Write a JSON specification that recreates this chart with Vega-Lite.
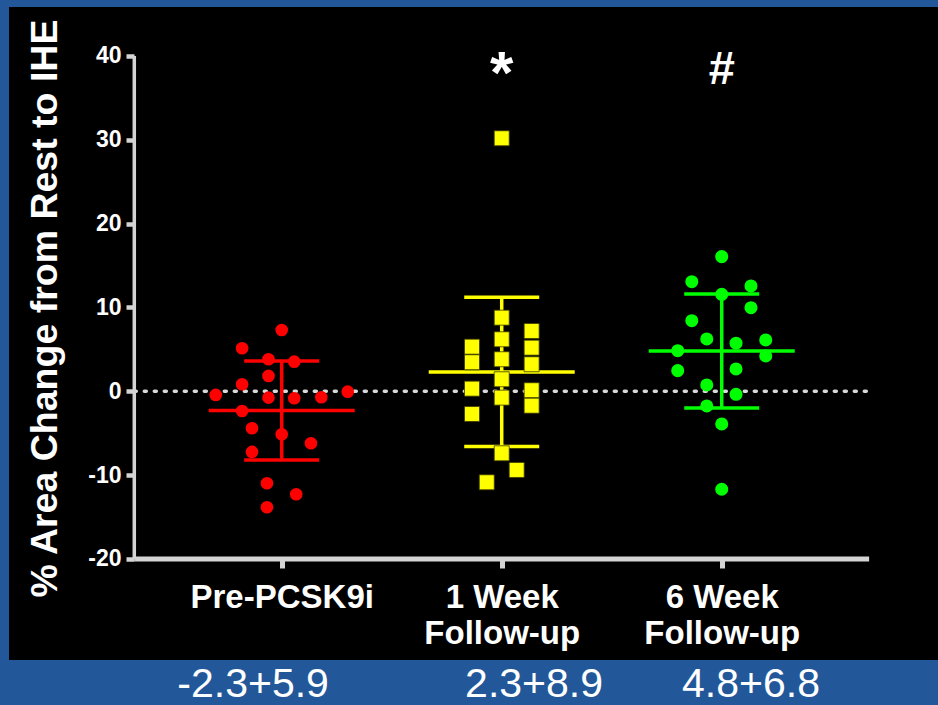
{
  "$schema": "https://vega.github.io/schema/vega-lite/v6.json",
  "width": 929,
  "height": 653,
  "autosize": {"type": "none"},
  "padding": {"left": 9, "top": 7, "right": 0, "bottom": 45},
  "background": "#22589a",
  "config": {
    "view": {"fill": "#000000", "stroke": null},
    "font": "Liberation Sans"
  },
  "datasets": {
    "points": [
      {"group": "Pre-PCSK9i", "x": 1.0, "y": 7.31},
      {"group": "Pre-PCSK9i", "x": 0.82, "y": 5.13},
      {"group": "Pre-PCSK9i", "x": 0.94, "y": 3.82},
      {"group": "Pre-PCSK9i", "x": 1.057, "y": 3.53},
      {"group": "Pre-PCSK9i", "x": 0.94, "y": 1.83},
      {"group": "Pre-PCSK9i", "x": 0.82, "y": 0.84},
      {"group": "Pre-PCSK9i", "x": 0.70, "y": -0.44},
      {"group": "Pre-PCSK9i", "x": 0.94, "y": -0.76},
      {"group": "Pre-PCSK9i", "x": 1.057, "y": -0.84},
      {"group": "Pre-PCSK9i", "x": 1.18, "y": -0.72},
      {"group": "Pre-PCSK9i", "x": 1.30, "y": -0.05},
      {"group": "Pre-PCSK9i", "x": 0.82, "y": -2.35},
      {"group": "Pre-PCSK9i", "x": 0.865, "y": -4.41},
      {"group": "Pre-PCSK9i", "x": 1.0, "y": -5.13},
      {"group": "Pre-PCSK9i", "x": 1.133, "y": -6.2},
      {"group": "Pre-PCSK9i", "x": 0.865, "y": -7.24},
      {"group": "Pre-PCSK9i", "x": 0.933, "y": -10.97},
      {"group": "Pre-PCSK9i", "x": 1.066, "y": -12.29},
      {"group": "Pre-PCSK9i", "x": 0.933, "y": -13.84},
      {"group": "1 Week", "x": 2.0, "y": 30.18},
      {"group": "1 Week", "x": 2.0, "y": 8.78},
      {"group": "1 Week", "x": 2.0, "y": 6.2},
      {"group": "1 Week", "x": 2.0, "y": 3.82},
      {"group": "1 Week", "x": 2.0, "y": 1.43},
      {"group": "1 Week", "x": 2.0, "y": -0.76},
      {"group": "1 Week", "x": 2.0, "y": -7.4},
      {"group": "1 Week", "x": 2.068, "y": -9.39},
      {"group": "1 Week", "x": 1.932, "y": -10.86},
      {"group": "1 Week", "x": 1.865, "y": 5.32},
      {"group": "1 Week", "x": 1.865, "y": 3.46},
      {"group": "1 Week", "x": 1.865, "y": 0.31},
      {"group": "1 Week", "x": 1.865, "y": -2.71},
      {"group": "1 Week", "x": 2.136, "y": 7.19},
      {"group": "1 Week", "x": 2.136, "y": 5.2},
      {"group": "1 Week", "x": 2.136, "y": 3.22},
      {"group": "1 Week", "x": 2.136, "y": 0.12},
      {"group": "1 Week", "x": 2.136, "y": -1.72},
      {"group": "6 Week", "x": 3.0, "y": 16.06},
      {"group": "6 Week", "x": 3.0, "y": 11.57},
      {"group": "6 Week", "x": 3.0, "y": -3.9},
      {"group": "6 Week", "x": 3.0, "y": -11.69},
      {"group": "6 Week", "x": 2.864, "y": 13.07},
      {"group": "6 Week", "x": 2.864, "y": 8.42},
      {"group": "6 Week", "x": 3.133, "y": 12.56},
      {"group": "6 Week", "x": 3.133, "y": 9.97},
      {"group": "6 Week", "x": 2.932, "y": 6.24},
      {"group": "6 Week", "x": 2.932, "y": 0.75},
      {"group": "6 Week", "x": 2.932, "y": -1.75},
      {"group": "6 Week", "x": 3.065, "y": 5.73},
      {"group": "6 Week", "x": 3.065, "y": 2.66},
      {"group": "6 Week", "x": 3.065, "y": -0.36},
      {"group": "6 Week", "x": 3.2, "y": 6.12},
      {"group": "6 Week", "x": 3.2, "y": 4.21},
      {"group": "6 Week", "x": 2.8, "y": 4.84},
      {"group": "6 Week", "x": 2.8, "y": 2.46}
    ],
    "summary": [
      {"group": "Pre-PCSK9i", "x": 1, "mean": -2.3, "lo": -8.2, "hi": 3.6},
      {"group": "1 Week", "x": 2, "mean": 2.3, "lo": -6.6, "hi": 11.2},
      {"group": "6 Week", "x": 3, "mean": 4.8, "lo": -2.0, "hi": 11.6}
    ],
    "frame": [
      {"x": 0.33, "x2": 3.67, "y": -20, "y2": -20, "kind": "xaxis"},
      {"x": 0.33, "x2": 0.33, "y": -20, "y2": 40, "kind": "yaxis"}
    ],
    "zero": [{"x": 0.33, "x2": 3.66, "y": 0}],
    "marks": [
      {"x": 2, "y": 35.6, "text": "*"},
      {"x": 3, "y": 36.6, "text": "#"}
    ],
    "stats": [
      {"x": 0.87, "y": -35.0, "text": "-2.3+5.9"},
      {"x": 2.147, "y": -35.0, "text": "2.3+8.9"},
      {"x": 3.133, "y": -35.0, "text": "4.8+6.8"}
    ]
  },
  "encoding": {
    "x": {
      "type": "quantitative",
      "scale": {"domain": [-0.2395, 3.983], "nice": false, "zero": false},
      "axis": {
        "orient": "bottom",
        "offset": -101,
        "values": [1, 2, 3],
        "labelExpr": "datum.value == 1 ? 'Pre-PCSK9i' : datum.value == 2 ? ['1 Week', 'Follow-up'] : ['6 Week', 'Follow-up']",
        "labelFont": "Liberation Sans",
        "labelFontWeight": "bold",
        "labelFontSize": 33,
        "labelLineHeight": 36,
        "labelColor": "#ffffff",
        "labelPadding": 13,
        "labelLimit": 0,
        "labelOverlap": false,
        "labelFlush": false,
        "tickColor": "#d4d4d4",
        "tickSize": 9,
        "tickWidth": 5,
        "domain": false,
        "grid": false,
        "title": null
      }
    },
    "y": {
      "type": "quantitative",
      "scale": {"domain": [-32.06, 45.84], "nice": false, "zero": false},
      "axis": {
        "orient": "left",
        "offset": -125,
        "values": [-20, -10, 0, 10, 20, 30, 40],
        "labelExpr": "'' + datum.value",
        "labelFont": "Liberation Sans",
        "labelFontWeight": "bold",
        "labelFontSize": 23,
        "labelColor": "#ffffff",
        "labelPadding": 5,
        "labelOverlap": false,
        "labelFlush": false,
        "tickColor": "#d4d4d4",
        "tickSize": 8,
        "tickWidth": 4.5,
        "domain": false,
        "grid": false,
        "title": "% Area Change from Rest to IHE",
        "titleFont": "Liberation Sans",
        "titleFontWeight": "bold",
        "titleFontSize": 37.5,
        "titleColor": "#ffffff",
        "titleAngle": 270,
        "titleAlign": "center",
        "titleBaseline": "middle",
        "titleX": -89,
        "titleY": 301,
        "titleLimit": 0
      }
    }
  },
  "layer": [
    {
      "data": {"name": "zero"},
      "mark": {"type": "rule", "color": "#d9d9d9", "strokeWidth": 3.5, "strokeDash": [2, 8], "strokeCap": "round"},
      "encoding": {
        "x": {"field": "x", "type": "quantitative"},
        "x2": {"field": "x2"},
        "y": {"field": "y", "type": "quantitative"}
      }
    },
    {
      "data": {"name": "frame"},
      "mark": {"type": "rule", "color": "#d4d4d4"},
      "encoding": {
        "x": {"field": "x", "type": "quantitative"},
        "x2": {"field": "x2"},
        "y": {"field": "y", "type": "quantitative"},
        "y2": {"field": "y2"},
        "strokeWidth": {"field": "kind", "type": "nominal", "scale": {"domain": ["xaxis", "yaxis"], "range": [5, 3.5]}, "legend": null}
      }
    },
    {
      "data": {"name": "summary"},
      "mark": {"type": "rule", "strokeWidth": 3.5},
      "encoding": {
        "x": {"field": "x", "type": "quantitative"},
        "y": {"field": "lo", "type": "quantitative"},
        "y2": {"field": "hi"},
        "color": {"field": "group", "type": "nominal", "scale": {"domain": ["Pre-PCSK9i", "1 Week", "6 Week"], "range": ["#ff0000", "#ffff00", "#00ff00"]}, "legend": null}
      }
    },
    {
      "data": {"name": "summary"},
      "mark": {"type": "tick", "orient": "horizontal", "size": 146, "thickness": 3.5, "opacity": 1},
      "encoding": {
        "x": {"field": "x", "type": "quantitative"},
        "y": {"field": "mean", "type": "quantitative"},
        "color": {"field": "group", "type": "nominal", "legend": null}
      }
    },
    {
      "data": {"name": "summary"},
      "mark": {"type": "tick", "orient": "horizontal", "size": 75, "thickness": 3.5, "opacity": 1},
      "encoding": {
        "x": {"field": "x", "type": "quantitative"},
        "y": {"field": "lo", "type": "quantitative"},
        "color": {"field": "group", "type": "nominal", "legend": null}
      }
    },
    {
      "data": {"name": "summary"},
      "mark": {"type": "tick", "orient": "horizontal", "size": 75, "thickness": 3.5, "opacity": 1},
      "encoding": {
        "x": {"field": "x", "type": "quantitative"},
        "y": {"field": "hi", "type": "quantitative"},
        "color": {"field": "group", "type": "nominal", "legend": null}
      }
    },
    {
      "data": {"name": "points"},
      "transform": [{"filter": "datum.group != '1 Week'"}],
      "mark": {"type": "circle", "opacity": 1, "strokeWidth": 0},
      "encoding": {
        "x": {"field": "x", "type": "quantitative"},
        "y": {"field": "y", "type": "quantitative"},
        "color": {"field": "group", "type": "nominal", "legend": null},
        "size": {"field": "group", "type": "nominal", "scale": {"domain": ["Pre-PCSK9i", "6 Week"], "range": [160, 170]}, "legend": null}
      }
    },
    {
      "data": {"name": "points"},
      "transform": [{"filter": "datum.group == '1 Week'"}],
      "mark": {"type": "square", "opacity": 1, "fill": "#ffff00", "stroke": "#3a3a00", "strokeWidth": 0.8, "size": 225},
      "encoding": {
        "x": {"field": "x", "type": "quantitative"},
        "y": {"field": "y", "type": "quantitative"}
      }
    },
    {
      "data": {"name": "marks"},
      "transform": [{"filter": "datum.text == '*'"}],
      "mark": {"type": "text", "font": "Liberation Sans", "fontWeight": "bold", "fontSize": 60, "color": "#ffffff", "align": "center", "baseline": "alphabetic"},
      "encoding": {
        "x": {"field": "x", "type": "quantitative"},
        "y": {"field": "y", "type": "quantitative"},
        "text": {"field": "text"}
      }
    },
    {
      "data": {"name": "marks"},
      "transform": [{"filter": "datum.text == '#'"}],
      "mark": {"type": "text", "font": "Liberation Sans", "fontWeight": "bold", "fontSize": 47, "color": "#ffffff", "align": "center", "baseline": "alphabetic"},
      "encoding": {
        "x": {"field": "x", "type": "quantitative"},
        "y": {"field": "y", "type": "quantitative"},
        "text": {"field": "text"}
      }
    },
    {
      "data": {"name": "stats"},
      "mark": {"type": "text", "font": "Liberation Sans", "fontSize": 41, "color": "#ffffff", "align": "center", "baseline": "middle"},
      "encoding": {
        "x": {"field": "x", "type": "quantitative"},
        "y": {"field": "y", "type": "quantitative"},
        "text": {"field": "text"}
      }
    }
  ]
}
